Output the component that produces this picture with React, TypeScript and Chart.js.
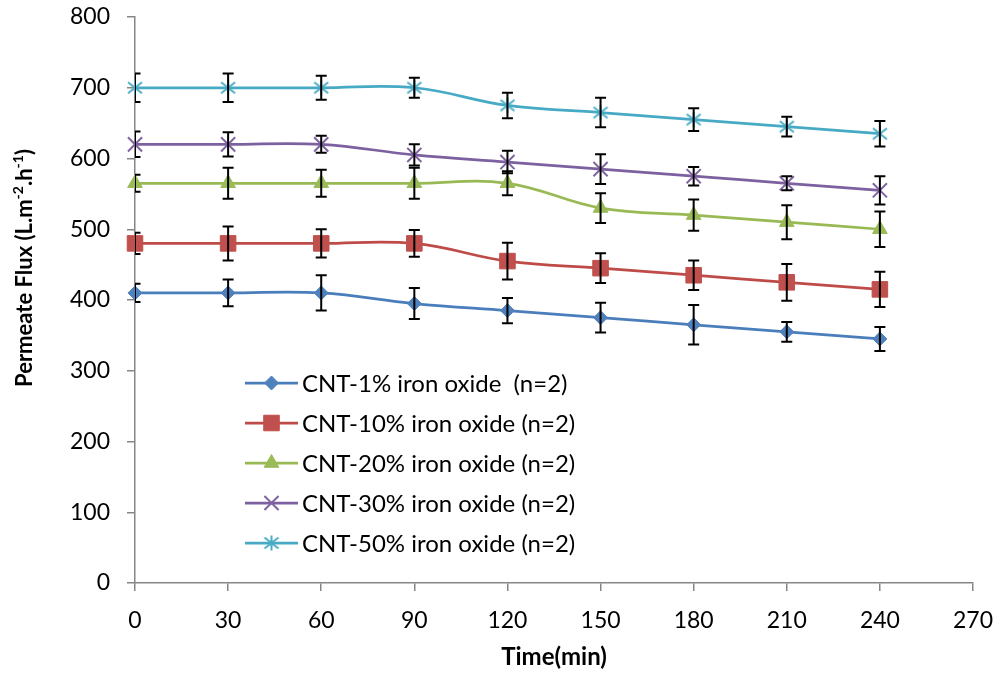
import React, { useEffect, useRef } from "react";
import { Chart, registerables } from "chart.js";
import { drawPoint } from "chart.js/helpers";

Chart.register(...registerables);

const times = [0, 30, 60, 90, 120, 150, 180, 210, 240];
const xTicks = { min: 0, max: 270, step: 30 };
const yTicks = { min: 0, max: 800, step: 100 };

const labels = [
  "CNT-1% iron oxide  (n=2)",
  "CNT-10% iron oxide (n=2)",
  "CNT-20% iron oxide (n=2)",
  "CNT-30% iron oxide (n=2)",
  "CNT-50% iron oxide (n=2)",
];

const flux1 = [410, 410, 410, 395, 385, 375, 365, 355, 345];
const err1 = [13, 19, 25, 22, 18, 21, 28, 14, 17];
const flux10 = [480, 480, 480, 480, 455, 445, 435, 425, 415];
const err10 = [15, 24, 20, 19, 26, 21, 21, 26, 25];
const flux20 = [565, 565, 565, 565, 565, 530, 520, 510, 500];
const err20 = [12, 22, 19, 22, 17, 21, 22, 24, 25];
const flux30 = [620, 620, 620, 605, 595, 585, 575, 565, 555];
const err30 = [18, 17, 12, 15, 16, 21, 13, 10, 20];
const flux50 = [700, 700, 700, 700, 675, 665, 655, 645, 635];
const err50 = [20, 20, 17, 14, 18, 21, 16, 14, 18];

const seriesValues = [flux1, flux10, flux20, flux30, flux50];
const seriesErrors = [err1, err10, err20, err30, err50];
const lineColors = ["#4A7EBB", "#BE4B48", "#98B954", "#7D60A0", "#46AAC5"];
const markerColors = ["#4F81BD", "#C0504D", "#9BBB59", "#8064A2", "#4BACC6"];
const markerRadii = [7, 11, 8.5, 10, 8];

const FONT = "Lato, 'Open Sans', sans-serif";

function makeAsterisk(color: string) {
  const c = document.createElement("canvas");
  c.width = 18;
  c.height = 18;
  const g = c.getContext("2d")!;
  g.strokeStyle = color;
  g.lineWidth = 2;
  g.lineCap = "butt";
  g.beginPath();
  g.moveTo(2, 3.5);
  g.lineTo(16, 14.5);
  g.moveTo(16, 3.5);
  g.lineTo(2, 14.5);
  g.moveTo(9, 1.5);
  g.lineTo(9, 16.5);
  g.stroke();
  return c;
}

const errorBarPlugin = {
  id: "errorBars",
  afterDatasetsDraw(chart: any) {
    const { ctx, chartArea } = chart;
    const xs = chart.scales.x;
    const ys = chart.scales.y;
    ctx.save();
    ctx.beginPath();
    ctx.rect(chartArea.left, 0, chart.width - chartArea.left, chart.height);
    ctx.clip();
    ctx.strokeStyle = "#000";
    ctx.lineWidth = 2;
    seriesValues.forEach((vals, si) => {
      const errs = seriesErrors[si];
      vals.forEach((v, i) => {
        const px = xs.getPixelForValue(times[i]);
        const top = ys.getPixelForValue(v + errs[i]);
        const bot = ys.getPixelForValue(v - errs[i]);
        ctx.beginPath();
        ctx.moveTo(px, top);
        ctx.lineTo(px, bot);
        ctx.moveTo(px - 5.5, top);
        ctx.lineTo(px + 5.5, top);
        ctx.moveTo(px - 5.5, bot);
        ctx.lineTo(px + 5.5, bot);
        ctx.stroke();
      });
    });
    ctx.restore();
  },
};

export default function App() {
  const ref = useRef<HTMLCanvasElement | null>(null);
  useEffect(() => {
    if (!ref.current) return;
    const markerStyles: any[] = ["rectRot", "rect", "triangle", "crossRot", makeAsterisk(markerColors[4])];

    const decorPlugin = {
      id: "decor",
      afterDraw(chart: any) {
        const { ctx, chartArea } = chart;
        ctx.save();
        const lx0 = 245;
        const lx1 = 298;
        const ly0 = 383;
        const dy = 40;
        ctx.textBaseline = "middle";
        ctx.textAlign = "left";
        labels.forEach((lab, i) => {
          const y = ly0 + i * dy;
          ctx.strokeStyle = lineColors[i];
          ctx.lineWidth = 2.75;
          ctx.beginPath();
          ctx.moveTo(lx0, y);
          ctx.lineTo(lx1, y);
          ctx.stroke();
          ctx.fillStyle = markerColors[i];
          ctx.strokeStyle = markerColors[i];
          ctx.lineWidth = i >= 3 ? 2 : 1;
          drawPoint(
            ctx,
            { pointStyle: markerStyles[i], rotation: 0, radius: markerRadii[i], borderWidth: i >= 3 ? 2 : 1 },
            (lx0 + lx1) / 2,
            y
          );
          ctx.font = `24px ${FONT}`;
          ctx.fillStyle = "#000";
          ctx.fillText(lab, 302, y + 1);
        });

        ctx.font = `bold 24px ${FONT}`;
        ctx.textAlign = "center";
        ctx.fillStyle = "#000";
        ctx.fillText("Time(min)", (chartArea.left + chartArea.right) / 2, 657);

        const parts: [string, boolean][] = [
          ["Permeate Flux (L.m", false],
          ["-2", true],
          [".h", false],
          ["-1", true],
          [")", false],
        ];
        const big = `bold 22px ${FONT}`;
        const small = `bold 14px ${FONT}`;
        let total = 0;
        const widths = parts.map(([t, sup]) => {
          ctx.font = sup ? small : big;
          const w = ctx.measureText(t).width;
          total += w;
          return w;
        });
        ctx.translate(25, 268);
        ctx.rotate(-Math.PI / 2);
        ctx.textAlign = "left";
        let x = -total / 2;
        parts.forEach(([t, sup], i) => {
          ctx.font = sup ? small : big;
          ctx.fillText(t, x, sup ? -7 : 0);
          x += widths[i];
        });
        ctx.restore();
      },
    };

    const datasets = seriesValues.map((vals, si) => ({
      label: labels[si],
      data: vals.map((v, i) => ({ x: times[i], y: v })),
      borderColor: lineColors[si],
      backgroundColor: markerColors[si],
      pointBackgroundColor: markerColors[si],
      pointBorderColor: markerColors[si],
      pointStyle: markerStyles[si],
      pointRadius: markerRadii[si],
      pointBorderWidth: si >= 3 ? 2 : 1,
      borderWidth: 2.75,
      tension: 0.4,
      clip: false as any,
    }));
    const chart = new Chart(ref.current, {
      type: "line",
      data: { datasets },
      options: {
        animation: false,
        responsive: false,
        layout: { padding: { top: 17, right: 24, left: 0, bottom: 0 } },
        plugins: { legend: { display: false }, tooltip: { enabled: false } },
        scales: {
          x: {
            type: "linear",
            min: xTicks.min,
            max: xTicks.max,
            afterFit: (s: any) => {
              s.height = 92;
              s.paddingLeft = 0;
              s.paddingRight = 0;
            },
            ticks: { stepSize: xTicks.step, color: "#000", font: { family: FONT, size: 23 }, padding: 16, maxRotation: 0 },
            grid: { drawOnChartArea: false, tickLength: 8, color: "#868686", lineWidth: 1.5 },
            border: { color: "#868686", width: 1.5 },
          },
          y: {
            min: yTicks.min,
            max: yTicks.max,
            afterFit: (s: any) => {
              s.width = 135;
              s.paddingTop = 0;
              s.paddingBottom = 0;
            },
            ticks: { stepSize: yTicks.step, color: "#000", font: { family: FONT, size: 23 }, padding: 17 },
            grid: { drawOnChartArea: false, tickLength: 8, color: "#868686", lineWidth: 1.5 },
            border: { color: "#868686", width: 1.5 },
          },
        },
      },
      plugins: [errorBarPlugin, decorPlugin],
    });
    return () => chart.destroy();
  }, []);
  return (
    <div style={{ position: "absolute", left: 0, top: 0, width: 997, height: 675, background: "#fff" }}>
      <canvas ref={ref} width={997} height={675} />
    </div>
  );
}
